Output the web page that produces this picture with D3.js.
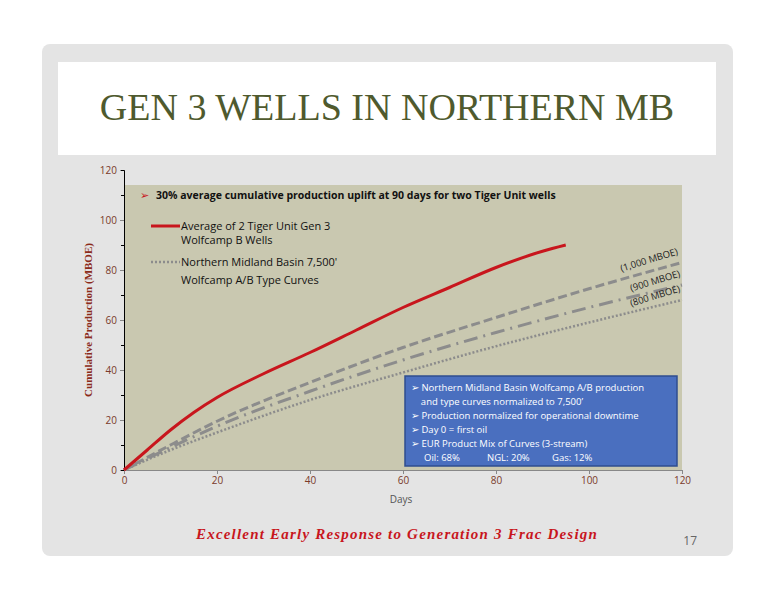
<!DOCTYPE html><html><head><meta charset="utf-8">
<script src="https://cdn.jsdelivr.net/npm/d3@7"></script>
<style>body{margin:0;background:#fff}</style></head><body><svg id="c" width="776" height="600"></svg>
<script>
const days=[0,5,10,15,20,30,40,50,60,70,80,90,95];
const tiger=[0,8,16,23,29,38.5,47,56,65,73,81,87.5,90];
const tcDays=[0,10,20,40,60,80,100,120];
const tc1000=[0,10,19.5,35,49,61,72.5,83];
const tc900=[0,9,17.5,31.5,44,55,65,74];
const tc800=[0,8,15,28,39,49.5,59,68];
const xTicks=[0,20,40,60,80,100,120];
const yTicks=[0,20,40,60,80,100,120];
const svg=d3.select("#c");
svg.append("rect").attr("x",42).attr("y",44).attr("width",691).attr("height",512).attr("rx",8).attr("fill","#e4e4e4");
svg.append("rect").attr("x",58).attr("y",62).attr("width",658).attr("height",93).attr("fill","#fff");
svg.append("text").attr("x",387).attr("y",120).attr("text-anchor","middle").attr("font-family","Liberation Serif").attr("font-size",38).attr("fill","#4f5a2e").text("GEN 3 WELLS IN NORTHERN MB");
const x=d3.scaleLinear().domain([0,120]).range([124,682]);
const y=d3.scaleLinear().domain([0,120]).range([470,170]);
svg.append("rect").attr("x",124).attr("y",185).attr("width",558).attr("height",285).attr("fill","#c9c8b0");
const ax=svg.append("g").attr("transform","translate(0,470)").call(d3.axisBottom(x).tickValues(xTicks).tickSize(4).tickSizeOuter(0));
const ay=svg.append("g").attr("transform","translate(124,0)").call(d3.axisLeft(y).tickValues(yTicks).tickSize(4).tickSizeOuter(0));
svg.append("g").attr("transform","translate(124,0)").call(d3.axisLeft(y).tickValues(d3.range(10,120,20)).tickSize(3).tickFormat(""));
[ax,ay].forEach(a=>{a.selectAll("path,line").attr("stroke","#888");a.selectAll("text").attr("font-family","Open Sans").attr("font-size",10).attr("fill","#7a3a2a");});
svg.append("text").attr("x",401).attr("y",503).attr("text-anchor","middle").attr("font-family","Open Sans").attr("font-size",10).attr("fill","#555").text("Days");
svg.append("text").attr("transform","translate(92,320) rotate(-90)").attr("text-anchor","middle").attr("font-family","Liberation Serif").attr("font-weight","bold").attr("font-size",11).attr("fill","#8b2b1a").text("Cumulative Production (MBOE)");
const line=(xs,ys)=>d3.line().x((d,i)=>x(xs[i])).y(d=>y(d)).curve(d3.curveMonotoneX)(ys);
svg.append("path").attr("d",line(tcDays,tc1000)).attr("fill","none").attr("stroke","#8c8c8c").attr("stroke-width",3).attr("stroke-dasharray","9,4");
svg.append("path").attr("d",line(tcDays,tc900)).attr("fill","none").attr("stroke","#8c8c8c").attr("stroke-width",3).attr("stroke-dasharray","14,6,2,6");
svg.append("path").attr("d",line(tcDays,tc800)).attr("fill","none").attr("stroke","#8c8c8c").attr("stroke-width",2.5).attr("stroke-dasharray","2,2");
svg.append("path").attr("d",line(days,tiger)).attr("fill","none").attr("stroke","#c8161d").attr("stroke-width",3);
const lab=[["(1,000 MBOE)",650,263],["(900 MBOE)",656,284],["(800 MBOE)",656,299]];
lab.forEach(l=>svg.append("text").attr("transform",`translate(${l[1]},${l[2]}) rotate(-17)`).attr("text-anchor","middle").attr("font-family","Open Sans").attr("font-size",9.5).attr("fill","#222").text(l[0]));
const f="Open Sans";
svg.append("text").attr("x",140).attr("y",199).attr("font-family",f).attr("font-size",11).attr("fill","#c8161d").text("➢");
svg.append("text").attr("x",156).attr("y",199).attr("font-family",f).attr("font-weight","bold").attr("font-size",10.5).attr("fill","#111").text("30% average cumulative production uplift at 90 days for two Tiger Unit wells");
svg.append("line").attr("x1",151).attr("x2",180).attr("y1",226).attr("y2",226).attr("stroke","#c8161d").attr("stroke-width",3);
svg.append("line").attr("x1",151).attr("x2",180).attr("y1",262).attr("y2",262).attr("stroke","#8c8c8c").attr("stroke-width",2.5).attr("stroke-dasharray","2,2");
[["Average of 2 Tiger Unit Gen 3",230],["Wolfcamp B Wells",244],["Northern Midland Basin 7,500'",266],["Wolfcamp A/B Type Curves",284]].forEach(t=>svg.append("text").attr("x",181).attr("y",t[1]).attr("font-family",f).attr("font-size",11).attr("fill","#111").text(t[0]));
svg.append("rect").attr("x",405).attr("y",376).attr("width",272).attr("height",90).attr("fill","#4a6fbf").attr("stroke","#2f4d8f").attr("stroke-width",1.5);
[["➢ Northern Midland Basin Wolfcamp A/B production",391],["    and type curves normalized to 7,500’",405],["➢ Production normalized for operational downtime",419],["➢ Day 0 = first oil",433],["➢ EUR Product Mix of Curves (3-stream)",447]].forEach(t=>svg.append("text").attr("x",411).attr("y",t[1]).attr("font-family",f).attr("font-size",9.5).attr("fill","#fff").attr("xml:space","preserve").text(t[0]));
[["Oil: 68%",424],["NGL: 20%",487],["Gas: 12%",552]].forEach(t=>svg.append("text").attr("x",t[1]).attr("y",461).attr("font-family",f).attr("font-size",9.5).attr("fill","#fff").text(t[0]));
svg.append("text").attr("x",397).attr("y",539).attr("text-anchor","middle").attr("font-family","Liberation Serif").attr("font-style","italic").attr("font-weight","bold").attr("font-size",15).attr("fill","#c8161d").attr("letter-spacing",1.2).text("Excellent Early Response to Generation 3 Frac Design");
svg.append("text").attr("x",697).attr("y",545).attr("text-anchor","end").attr("font-family","Open Sans").attr("font-size",12).attr("fill","#666").text("17");
</script></body></html>
